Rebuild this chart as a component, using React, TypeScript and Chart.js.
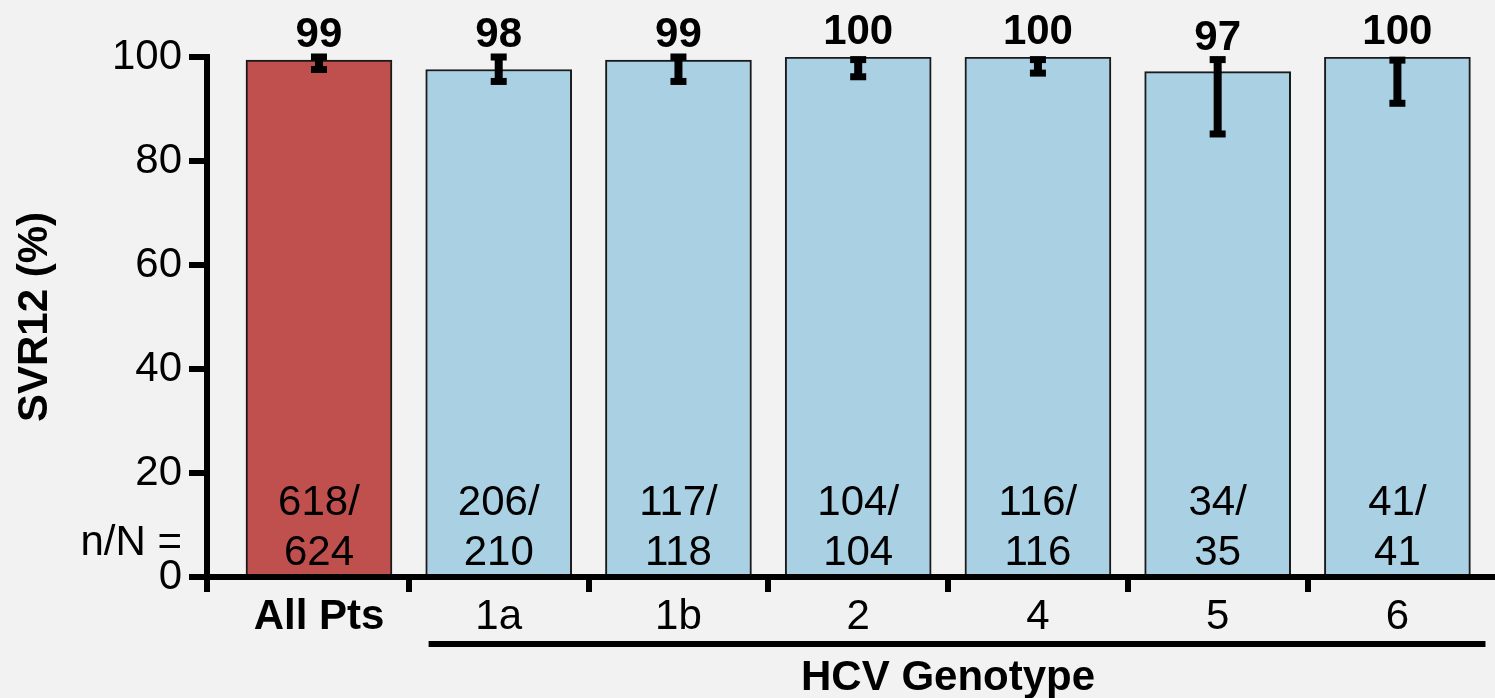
import { useEffect, useRef } from 'react';
import { Chart, registerables } from 'chart.js';

Chart.register(...registerables);

const categories = ['All Pts', '1a', '1b', '2', '4', '5', '6'];
const svrValues = [99.4, 97.6, 99.4, 100, 100, 97.2, 100];
const valueLabels = ['99', '98', '99', '100', '100', '97', '100'];
const ciLow = [97.6, 95.3, 95.3, 96.2, 96.9, 85.2, 91.1];
const ciHigh = [100, 100, 100, 99.5, 99.5, 99.5, 99.4];
const nResponders = ['618', '206', '117', '104', '116', '34', '41'];
const nTotal = ['624', '210', '118', '104', '116', '35', '41'];
const yTickValues = [0, 20, 40, 60, 80, 100];

const barColors = ['#C0504D', '#A9D1E3', '#A9D1E3', '#A9D1E3', '#A9D1E3', '#A9D1E3', '#A9D1E3'];
const FONT = '"Liberation Sans", Arial, Helvetica, sans-serif';
const BG = '#F2F2F2';
const X_MIN = -0.623;
const X_MAX = 6.543;

const overlayPlugin = {
  id: 'overlay',
  beforeDraw(chart: any) {
    const { ctx, width, height } = chart;
    ctx.save();
    ctx.fillStyle = BG;
    ctx.fillRect(0, 0, width, height);
    ctx.restore();
  },
  afterDraw(chart: any) {
    const { ctx, chartArea } = chart;
    const xs = chart.scales.x;
    const ys = chart.scales.y;
    const y0 = ys.getPixelForValue(0);
    ctx.save();
    ctx.fillStyle = '#000';
    categories.forEach((_, i) => {
      const x = xs.getPixelForValue(i);
      const yH = ys.getPixelForValue(ciHigh[i]);
      const yL = ys.getPixelForValue(ciLow[i]);
      ctx.fillRect(x - 4, yH, 8, yL - yH);
      ctx.fillRect(x - 8, yH - 3.5, 16, 7);
      ctx.fillRect(x - 8, yL - 3.5, 16, 7);
      ctx.font = `bold 42px ${FONT}`;
      ctx.textAlign = 'center';
      ctx.textBaseline = 'alphabetic';
      const off = valueLabels[i].length > 2 ? 16 : 10;
      ctx.fillText(valueLabels[i], x, yH - off);
      ctx.font = `42px ${FONT}`;
      ctx.fillText(nResponders[i] + '/', x, y0 - 62);
      ctx.fillText(nTotal[i], x, y0 - 12);
    });
    ctx.font = `42px ${FONT}`;
    ctx.textAlign = 'right';
    ctx.fillText('n/N =', chartArea.left - 25, y0 - 22);
    const lx1 = xs.getPixelForValue(0.61);
    const lx2 = xs.getPixelForValue(6.49);
    ctx.fillRect(lx1, y0 + 64, lx2 - lx1, 6);
    ctx.font = `bold 42px ${FONT}`;
    ctx.textAlign = 'center';
    ctx.fillText('HCV Genotype', xs.getPixelForValue(3.5), y0 + 113);
    ctx.restore();
  },
};

export default function App() {
  const ref = useRef<HTMLCanvasElement>(null);

  useEffect(() => {
    document.body.style.margin = '0';
    document.body.style.background = BG;
    const canvas = ref.current;
    if (!canvas) return;
    const xTickValues: number[] = [X_MIN];
    categories.forEach((_, i) => {
      xTickValues.push(i);
      if (i < categories.length - 1) xTickValues.push(i + 0.5);
    });
    const chart = new Chart(canvas, {
      type: 'bar',
      data: {
        datasets: [
          {
            data: svrValues.map((v, i) => ({ x: i, y: v })),
            backgroundColor: barColors,
            borderColor: '#1a1a1a',
            borderWidth: 2,
            barThickness: 146,
          } as any,
        ],
      },
      options: {
        responsive: false,
        devicePixelRatio: 1,
        animation: false,
        layout: { padding: { top: 57, left: 0, right: 0, bottom: 0 } },
        plugins: { legend: { display: false }, tooltip: { enabled: false } },
        scales: {
          x: {
            type: 'linear',
            min: X_MIN,
            max: X_MAX,
            offset: false,
            z: 1,
            afterBuildTicks: (scale: any) => {
              scale.ticks = xTickValues.map((v) => ({ value: v }));
            },
            afterFit: (scale: any) => {
              scale.height = 121;
            },
            border: { display: true, color: '#000', width: 6 },
            grid: {
              offset: false,
              drawOnChartArea: false,
              drawTicks: true,
              tickLength: 15,
              color: '#000',
              lineWidth: (c: any) => (c.tick && Number.isInteger(c.tick.value) ? 0 : 6),
            },
            ticks: {
              autoSkip: false,
              maxRotation: 0,
              minRotation: 0,
              padding: 0,
              color: '#000',
              font: (c: any) => ({
                family: FONT,
                size: 42,
                weight: c.tick && c.tick.value === 0 ? 'bold' : 'normal',
              }),
              callback: (value: any) => (Number.isInteger(value) ? categories[value] : ''),
            },
          },
          y: {
            type: 'linear',
            min: 0,
            max: 100,
            z: 1,
            afterBuildTicks: (scale: any) => {
              scale.ticks = yTickValues.map((v) => ({ value: v }));
            },
            afterFit: (scale: any) => {
              scale.width = 207;
            },
            border: { display: true, color: '#000', width: 6 },
            grid: {
              drawOnChartArea: false,
              drawTicks: true,
              tickLength: 18,
              color: '#000',
              lineWidth: 6,
            },
            ticks: {
              padding: 7,
              color: '#000',
              font: { family: FONT, size: 42 },
            },
            title: {
              display: true,
              text: 'SVR12 (%)',
              color: '#000',
              font: { family: FONT, size: 42, weight: 'bold' },
              padding: { top: 10, bottom: 0 },
            },
          },
        },
      },
      plugins: [overlayPlugin],
    } as any);
    return () => chart.destroy();
  }, []);

  return (
    <div style={{ width: 1495, height: 698, position: 'relative', background: BG }}>
      <canvas ref={ref} width={1495} height={698} style={{ display: 'block' }} />
    </div>
  );
}
